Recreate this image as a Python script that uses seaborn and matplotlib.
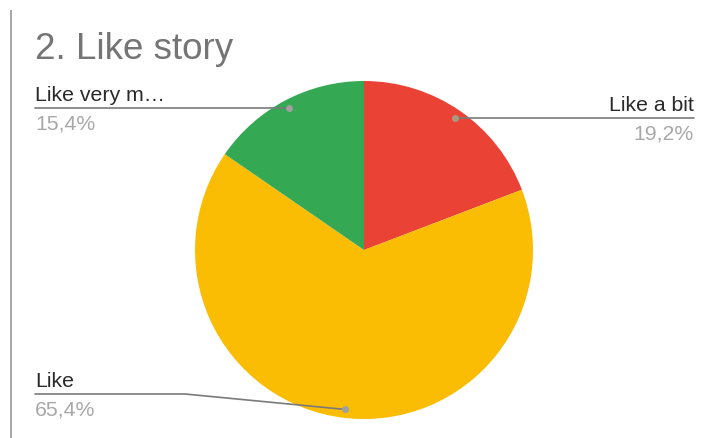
import numpy as np
import matplotlib
matplotlib.use("Agg")
import matplotlib.pyplot as plt
import seaborn as sns

labels = ["Like a bit", "Like", "Like very m…"]
values = [19.2, 65.4, 15.4]
pct_labels = ["19,2%", "65,4%", "15,4%"]
colors = ["#EA4335", "#FBBC04", "#34A853"]
title = "2. Like story"

sns.set_theme(style="white")
plt.rcParams['font.family'] = ['Liberation Sans', 'DejaVu Sans']

W, H = 706, 438
fig = plt.figure(figsize=(W / 100, H / 100), dpi=100)
ax = fig.add_axes([0, 0, 1, 1])

cx, cy, r = 364, H - 250, 169
pal = sns.color_palette(colors)
wedges, _ = ax.pie(values, colors=pal, startangle=90, counterclock=False,
                   center=(cx, cy), radius=r, frame=True,
                   wedgeprops=dict(linewidth=0))
ax.set_xlim(0, W)
ax.set_ylim(0, H)
ax.set_aspect("equal")
ax.axis("off")

# left border line
ax.plot([11, 11], [0, H - 10], color="#9e9e9e", lw=1.3, solid_capstyle="butt")

ax.text(35, H - 59, title, fontsize=26.5, color="#757575", va="baseline", ha="left")

# dots at slice midpoints
mids = []
for w in wedges:
    ang = np.deg2rad((w.theta1 + w.theta2) / 2)
    mids.append((cx + 0.95 * r * np.cos(ang), cy + 0.95 * r * np.sin(ang)))

line_c = "#7a7a7a"
lab_c = "#2a2a2a"
pct_c = "#a8a8a8"
fs = 15.3


def label(x, ly, name, pct, ha):
    ax.text(x, ly + 7, name, fontsize=fs, color=lab_c, ha=ha, va="baseline")
    ax.text(x, ly - 22, pct, fontsize=fs, color=pct_c, ha=ha, va="baseline")


# Like a bit (right)
dx, dy = mids[0]
ax.plot([dx, 694], [dy, dy], color=line_c, lw=1.2)
ax.plot(dx, dy, "o", ms=4, color="#a89a80")
label(694, dy, labels[0], pct_labels[0], "right")

# Like very much (left top)
dx, dy = mids[2]
ax.plot([35, dx], [dy, dy], color=line_c, lw=1.2)
ax.plot(dx, dy, "o", ms=4, color="#a0a0a0")
label(35, dy, labels[2], pct_labels[2], "left")

# Like (left bottom)
dx, dy = mids[1]
ly = H - 394
ax.plot([35, 185, dx], [ly, ly, dy], color=line_c, lw=1.2)
ax.plot(dx, dy, "o", ms=4, color="#a0a0a0")
label(35, ly, labels[1], pct_labels[1], "left")

fig.savefig("out.png", dpi=100)
